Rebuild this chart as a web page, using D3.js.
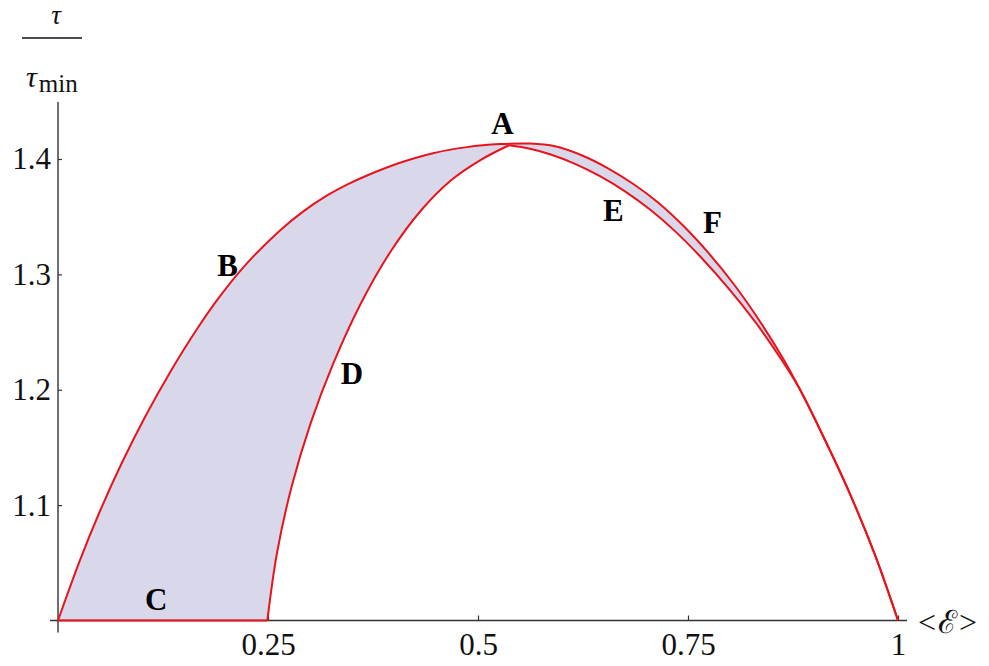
<!DOCTYPE html>
<html>
<head>
<meta charset="utf-8">
<script src="https://cdn.jsdelivr.net/npm/d3@7"></script>
<style>
  body { margin: 0; background: #fff; }
  text { font-family: "Liberation Serif", "DejaVu Serif", serif; }
</style>
</head>
<body>
<div id="chart-area"></div>
<script>
// values: [<E>, tau/tau_min]
const outerCurve = [[0, 1], [0.0262, 1.0524], [0.0500, 1.0949], [0.0758, 1.1363], [0.1036, 1.1764],
  [0.1333, 1.2150], [0.1651, 1.2522], [0.1929, 1.2811], [0.2246, 1.3093], [0.2643, 1.3381],
  [0.2917, 1.3544], [0.3199, 1.3682], [0.3440, 1.3778], [0.3679, 1.3857], [0.4071, 1.3967],
  [0.4464, 1.4050], [0.4869, 1.4103], [0.5262, 1.4129], [0.5619, 1.4134], [0.5917, 1.4110],
  [0.6254, 1.4026], [0.6548, 1.3919], [0.6849, 1.3783], [0.7143, 1.3623], [0.7444, 1.3421],
  [0.7738, 1.3190], [0.8039, 1.2921], [0.8333, 1.2618], [0.8635, 1.2267], [0.8833, 1.2002],
  [0.9131, 1.1564], [0.9429, 1.1096], [0.9726, 1.0568], [1, 1]];
const innerLeft = [[0.2492, 1], [0.2607, 1.0585], [0.2780, 1.1157], [0.3012, 1.1720], [0.3274, 1.2223],
  [0.3596, 1.2735], [0.3956, 1.3194], [0.4326, 1.3558], [0.4683, 1.3818], [0.5029, 1.3991], [0.5369, 1.4119]];
const innerRight = [[0.5369, 1.4119], [0.5619, 1.4089], [0.5857, 1.4041], [0.6155, 1.3958], [0.6452, 1.3851],
  [0.6750, 1.3720], [0.7048, 1.3562], [0.7345, 1.3375], [0.7643, 1.3157], [0.8000, 1.2864],
  [0.8298, 1.2590], [0.8595, 1.2281], [0.8833, 1.2002], [0.9131, 1.1564], [0.9429, 1.1096],
  [0.9726, 1.0568], [1, 1]];
const bottomEdge = [[0, 1], [0.2492, 1]];

const xTicks = [0.25, 0.5, 0.75, 1];
const xTickLabels = ["0.25", "0.5", "0.75", "1"];
const yTicks = [1.1, 1.2, 1.3, 1.4];
const yTickLabels = ["1.1", "1.2", "1.3", "1.4"];

const pointLabels = ["A", "B", "C", "D", "E", "F"];
const labelPos = [[0.529, 1.4217], [0.202, 1.2986], [0.117, 1.009], [0.350, 1.2046], [0.661, 1.3462], [0.779, 1.3358]];

const canvas = { width: 989, height: 666 };

const svg = d3.select("#chart-area").append("svg").attr("width", canvas.width).attr("height", canvas.height);

// scales
const x = d3.scaleLinear().domain([0, 1]).range([58, 898]);
const y = d3.scaleLinear().domain([1, 1.4]).range([620.5, 159]);

const line = d3.line().x(d => x(d[0])).y(d => y(d[1])).curve(d3.curveCatmullRom.alpha(0.5));
const joined = pts => line(pts).replace(/^M/, "L");

// shaded band: outer curve forward, inner curve back
const bandPath = line(outerCurve) + joined(innerRight.slice().reverse()) + joined(innerLeft.slice().reverse()) + "Z";
svg.append("path").attr("d", bandPath).attr("fill", "#d8d8ea").attr("stroke", "none");

// axes
const axisColor = "#333";
const xAxisCall = d3.axisBottom(x).tickValues(xTicks).tickFormat((d, i) => xTickLabels[i]).tickSize(-5).tickPadding(12);
const xAxis = svg.append("g").attr("transform", "translate(0," + y(1) + ")").call(xAxisCall);
const yAxisCall = d3.axisLeft(y).tickValues(yTicks).tickFormat((d, i) => yTickLabels[i]).tickSize(-4).tickPadding(7);
const yAxis = svg.append("g").attr("transform", "translate(" + x(0) + ",0)").call(yAxisCall);

[xAxis, yAxis].forEach(a => {
  a.select(".domain").remove();
  a.selectAll("line").attr("stroke", axisColor).attr("stroke-width", 1.2);
  a.selectAll("text").attr("font-size", 31).attr("fill", "#111");
});

svg.append("line").attr("x1", x(0) - 8).attr("x2", x(1) + 9).attr("y1", y(1)).attr("y2", y(1))
  .attr("stroke", axisColor).attr("stroke-width", 1.4);
svg.append("line").attr("x1", x(0)).attr("x2", x(0)).attr("y1", 102).attr("y2", y(1) + 12)
  .attr("stroke", axisColor).attr("stroke-width", 1.4);

// red curves
[outerCurve, innerLeft, innerRight, bottomEdge].forEach(c => {
  svg.append("path").attr("d", line(c)).attr("fill", "none").attr("stroke", "#e8141c").attr("stroke-width", 2);
});

// point labels
svg.selectAll(".pt-label").data(pointLabels).enter().append("text").attr("class", "pt-label")
  .attr("x", (d, i) => x(labelPos[i][0])).attr("y", (d, i) => y(labelPos[i][1]))
  .attr("text-anchor", "middle").attr("font-size", 31).attr("font-weight", "bold").attr("fill", "#000")
  .text(d => d);

// x axis title
svg.append("text").attr("x", x(1) + 20).attr("y", y(1) + 12).attr("font-size", 32).attr("letter-spacing", 2)
  .attr("fill", "#111").text("<ℰ>");

// y axis title, as a fraction
svg.append("text").attr("x", 56).attr("y", 24).attr("text-anchor", "middle").attr("font-size", 27)
  .attr("font-style", "italic").attr("fill", "#111").text("τ");
svg.append("line").attr("x1", 22).attr("x2", 82).attr("y1", 38).attr("y2", 38).attr("stroke", "#111").attr("stroke-width", 1.6);
const yLabel = svg.append("text").attr("x", 26).attr("y", 87).attr("font-size", 30).attr("fill", "#111");
yLabel.append("tspan").attr("font-style", "italic").text("τ");
yLabel.append("tspan").attr("dy", 5).attr("dx", 2).attr("font-size", 25).text("min");
</script>
</body>
</html>
